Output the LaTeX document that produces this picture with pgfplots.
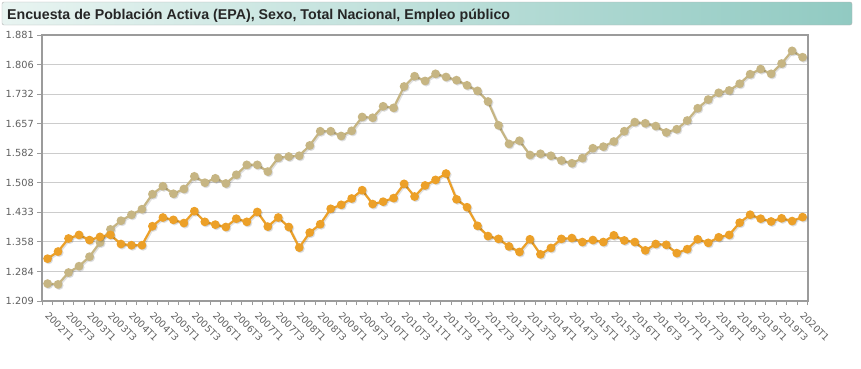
\documentclass[border=0pt]{standalone}
\usepackage{pgfplots}
\pgfplotsset{compat=1.18}
\usepackage{pgfplotstable}
\usepackage{fontspec}
\setmainfont{DejaVu Sans}
\newfontfamily\titlefont{Liberation Sans}
\definecolor{tanc}{RGB}{198,181,131}
\definecolor{orc}{RGB}{236,160,40}
\definecolor{gridc}{RGB}{204,204,204}
\definecolor{framec}{RGB}{155,155,155}
\definecolor{labc}{RGB}{96,96,96}
\definecolor{titleL}{RGB}{232,244,241}
\definecolor{titleR}{RGB}{145,202,194}

\pgfplotstableread{
i tan or
0 1253 1316
1 1251 1334
2 1281 1367
3 1297 1376
4 1321 1363
5 1357 1371
6 1390 1376
7 1412 1353
8 1427 1350
9 1441 1350
10 1479 1398
11 1499 1420
12 1480 1414
13 1492 1406
14 1524 1436
15 1508 1409
16 1519 1402
17 1506 1396
18 1528 1417
19 1553 1409
20 1553 1434
21 1536 1397
22 1571 1420
23 1574 1396
24 1576 1344
25 1602 1382
26 1638 1403
27 1638 1442
28 1626 1452
29 1639 1468
30 1674 1489
31 1672 1454
32 1701 1460
33 1697 1469
34 1751 1505
35 1777 1473
36 1765 1501
37 1783 1515
38 1775 1531
39 1767 1466
40 1754 1446
41 1740 1399
42 1713 1373
43 1653 1366
44 1606 1347
45 1614 1333
46 1578 1365
47 1581 1327
48 1576 1343
49 1564 1366
50 1557 1368
51 1570 1358
52 1595 1363
53 1599 1358
54 1612 1375
55 1638 1362
56 1661 1358
57 1658 1337
58 1651 1353
59 1635 1351
60 1643 1330
61 1665 1340
62 1696 1365
63 1718 1356
64 1735 1370
65 1741 1376
66 1758 1407
67 1782 1427
68 1795 1417
69 1783 1410
70 1809 1418
71 1841 1411
72 1825 1421
}\datatable

\begin{document}
\begin{tikzpicture}
\path[use as bounding box] (0pt,0pt) rectangle (861pt,368pt);
\shadedraw[left color=titleL, right color=titleR, draw=gray!60, rounded corners=2pt] (2pt,343pt) rectangle (852pt,366pt);
\node[anchor=base west, inner sep=0pt, text=black!85, font=\titlefont\bfseries\fontsize{14.2}{16}\selectfont] at (7pt,349pt) {Encuesta de Población Activa (EPA), Sexo, Total Nacional, Empleo público};
\begin{axis}[
  at={(42.3pt,67pt)}, anchor=south west,
  width=765.5pt, height=266pt, scale only axis,
  xmin=-0.5, xmax=72.5, ymin=1209, ymax=1881,
  ytick={1209,1283.667,1358.333,1433,1507.667,1582.333,1657,1731.667,1806.333,1881},
  yticklabels={1.209,1.284,1.358,1.433,1.508,1.582,1.657,1.732,1.806,1.881},
  xtick={0,2,...,72},
  xticklabels={2002T1,2002T3,2003T1,2003T3,2004T1,2004T3,2005T1,2005T3,2006T1,2006T3,2007T1,2007T3,2008T1,2008T3,2009T1,2009T3,2010T1,2010T3,2011T1,2011T3,2012T1,2012T3,2013T1,2013T3,2014T1,2014T3,2015T1,2015T3,2016T1,2016T3,2017T1,2017T3,2018T1,2018T3,2019T1,2019T3,2020T1},
  minor xtick={-0.5,0.5,...,72.5},
  tick align=outside,
  major tick length=5pt, minor tick length=4pt,
  major x tick style={draw=none},
  minor x tick style={draw=framec, line width=0.8pt},
  major y tick style={draw=framec, line width=0.8pt},
  xtick pos=bottom, ytick pos=left,
  ymajorgrids, grid style={draw=gridc, line width=1pt},
  axis line style={draw=framec, line width=1.8pt},
  yticklabel style={text=labc, font=\fontsize{9.8}{11}\selectfont},
  xticklabel style={text=labc, font=\fontsize{9.5}{11}\selectfont, inner sep=0pt, anchor=north west, yshift=-5pt, xshift=2pt, rotate=-45},
  clip=false,
]
\draw[framec, line width=2.6pt] (rel axis cs:0,0) -- (rel axis cs:1,0);
\addplot[black, opacity=0.12, line width=2.2pt, mark=*, mark size=3.2pt, xshift=1.2pt, yshift=-1.2pt] table[x=i, y=tan] {\datatable};
\addplot[tanc, line width=2.2pt, mark=*, mark size=3.2pt, mark options={fill=tanc, draw=tanc}] table[x=i, y=tan] {\datatable};
\addplot[black, opacity=0.12, line width=2.2pt, mark=*, mark size=3.2pt, xshift=1.2pt, yshift=-1.2pt] table[x=i, y=or] {\datatable};
\addplot[orc, line width=2.2pt, mark=*, mark size=3.2pt, mark options={fill=orc, draw=orc}] table[x=i, y=or] {\datatable};
\end{axis}
\end{tikzpicture}
\end{document}
